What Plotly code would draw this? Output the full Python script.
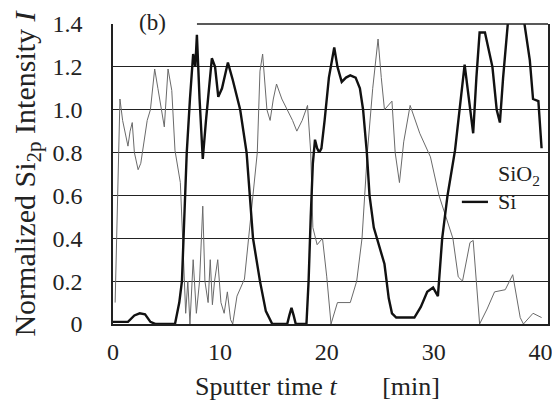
import plotly.graph_objects as go

# Si (thick black) profile
si_t = [0, 1.0, 1.4, 2.0, 2.5, 3.0, 3.5, 4.0, 5.8, 6.2, 6.45, 6.6, 6.9, 7.2, 7.5, 7.7, 7.85, 8.1, 8.4,
        8.7, 8.9, 9.25, 9.55, 9.85, 10.2, 10.75, 11.2, 11.9, 12.5, 12.8, 13.1, 13.75, 14.3, 14.9,
        16.3, 16.5, 16.7, 16.9, 17.1, 18.1, 18.3, 18.5, 18.7, 18.9, 19.1, 19.3, 19.5, 19.8, 20.2,
        20.7, 21.0, 21.4, 21.8, 22.2, 22.7, 23.1, 23.4, 23.75, 24.0, 24.4, 24.8, 25.4, 25.8, 26.1,
        26.5, 28.2, 28.8, 29.4, 29.95, 30.4, 30.8, 31.3, 32.0, 32.5, 32.9, 33.3, 33.7, 34.0, 34.3,
        34.8, 35.5, 35.9, 36.2, 36.5, 36.85, 37.2, 38.2, 38.5, 39.0, 39.3, 39.8, 40.1]
si_i = [0.01, 0.01, 0.01, 0.04, 0.05, 0.045, 0.01, 0.0, 0.0, 0.1, 0.2, 0.4, 0.8, 1.05, 1.26, 1.2, 1.35, 1.05, 0.77,
        0.95, 1.05, 1.24, 1.2, 1.06, 1.1, 1.22, 1.14, 1.0, 0.8, 0.6, 0.4, 0.2, 0.06, 0.0,
        0.0, 0.04, 0.075, 0.04, 0.0, 0.0, 0.2, 0.5, 0.75, 0.86, 0.82, 0.8, 0.82, 0.95, 1.15,
        1.29, 1.2, 1.13, 1.15, 1.16, 1.15, 1.1, 1.0, 0.8, 0.6, 0.45, 0.38, 0.28, 0.12, 0.05,
        0.03, 0.03, 0.08, 0.15, 0.17, 0.13, 0.4, 0.6, 0.81, 1.05, 1.21, 1.05, 0.89, 1.15, 1.36,
        1.36, 1.2, 1.0, 0.94, 1.15, 1.4, 1.55, 1.55, 1.4, 1.23, 1.05, 1.04, 0.82]

# SiO2 (thin grey) profile
sio2_t = [0.2, 0.4, 0.65, 0.9, 1.1, 1.4, 1.6, 1.8, 2.0, 2.35, 2.6, 2.9, 3.2, 3.5, 3.9, 4.2, 4.6, 4.8,
          5.15, 5.5, 5.8, 6.3, 6.6, 6.8, 7.0, 7.2, 7.5, 7.8, 8.1, 8.4, 8.6, 8.9, 9.1, 9.3, 9.5, 9.8,
          10.1, 10.4, 10.7, 11.0, 11.2, 11.6, 12.3, 12.7, 13.1, 13.5, 13.75, 14.0, 14.4, 14.7, 15.0,
          15.3, 15.8, 16.3, 16.8, 17.2, 17.7, 18.2, 18.5, 18.7, 19.1, 19.6, 20.0, 20.4, 21.0, 22.2,
          22.8, 23.3, 23.8, 24.3, 24.8, 25.1, 25.4, 26.1, 26.4, 26.8, 27.2, 27.8, 28.7, 29.7, 30.5,
          31.8, 32.3, 32.7, 33.4, 33.7, 34.3, 35.0, 35.7, 36.7, 37.4, 38.1, 38.4, 39.3, 40.1]
sio2_i = [0.1, 0.6, 1.05, 0.95, 0.9, 0.83, 0.9, 0.94, 0.8, 0.72, 0.75, 0.85, 0.95, 1.0, 1.19, 1.1, 0.97, 0.92,
          1.19, 1.09, 0.81, 0.66, 0.3, 0.05, 0.2, 0.0, 0.3, 0.05, 0.2, 0.55, 0.2, 0.1, 0.3, 0.09, 0.2, 0.3,
          0.1, 0.05, 0.15, 0.02, 0.0, 0.13, 0.21, 0.4, 0.6, 0.8, 1.18, 1.26, 1.0, 0.95, 1.05,
          1.12, 1.05, 1.0, 0.95, 0.9, 0.95, 1.02, 0.8, 0.45, 0.37, 0.4, 0.22, 0.0, 0.1, 0.1,
          0.2, 0.4, 0.8, 1.1, 1.33, 1.15, 1.0, 1.04, 0.8, 0.66, 0.85, 1.02, 0.89, 0.78, 0.6,
          0.4, 0.22, 0.2, 0.38, 0.39, 0.0, 0.07, 0.15, 0.16, 0.23, 0.03, 0.0, 0.05, 0.03]

x_ticks = [0, 10, 20, 30, 40]
y_ticks = [0, 0.2, 0.4, 0.6, 0.8, 1.0, 1.2, 1.4]
y_tick_text = ["0", "0.2", "0.4", "0.6", "0.8", "1.0", "1.2", "1.4"]

FONT = "Liberation Serif, Times New Roman, serif"
INK = "#222222"

fig = go.Figure()
fig.add_trace(go.Scatter(x=sio2_t, y=sio2_i, mode="lines", name="SiO<sub>2</sub>",
                         line=dict(color="#6a6a6a", width=1), showlegend=False))
fig.add_trace(go.Scatter(x=si_t, y=si_i, mode="lines", name="Si",
                         line=dict(color="#111111", width=2.4), showlegend=False))

# page body adds an 8px offset; figure is sized to fit the 560x402 window
fig.update_layout(
    template="none",
    width=552, height=394,
    margin=dict(l=105, r=12, t=16, b=78, pad=0),
    paper_bgcolor="white", plot_bgcolor="white",
    font=dict(family=FONT, size=24, color=INK),
    xaxis=dict(range=[0, 40.7], tickmode="array", tickvals=x_ticks, showgrid=False, zeroline=False,
               showline=True, linecolor=INK, linewidth=1.5,
               ticks="outside", ticklen=5, tickcolor="rgba(0,0,0,0)",
               automargin=False,
               tickfont=dict(family=FONT, size=24, color=INK),
               title=dict(text="Sputter time <i>t</i>       [min]" + "\u00a0" * 4 + "\u200b",
                          standoff=13, font=dict(family=FONT, size=26, color=INK))),
    yaxis=dict(range=[0, 1.4], tickmode="array", tickvals=y_ticks, ticktext=y_tick_text, showgrid=True,
               gridcolor=INK, gridwidth=1.2, zeroline=False,
               showline=True, mirror=True, linecolor=INK, linewidth=1.5,
               ticks="outside", ticklen=24, tickcolor="rgba(0,0,0,0)",
               automargin=False,
               tickfont=dict(family=FONT, size=24, color=INK),
               title=dict(text="Normalized Si<sub>2p</sub> Intensity <i>I</i>", standoff=8,
                          font=dict(family=FONT, size=30, color=INK))),
    showlegend=False,
)

# partial top frame line
fig.add_shape(type="line", xref="paper", yref="paper", x0=0.193, x1=1.0, y0=1.0, y1=1.0,
              line=dict(color=INK, width=1.5))
# legend key for Si
fig.add_shape(type="line", xref="paper", yref="paper", x0=0.802, x1=0.862, y0=0.407, y1=0.407,
              line=dict(color="#111111", width=2.4))
fig.add_annotation(text="SiO<sub>2</sub>", xref="paper", yref="paper", x=0.88, y=0.497,
                   xanchor="left", yanchor="middle", showarrow=False,
                   font=dict(family=FONT, size=22, color=INK))
fig.add_annotation(text="Si", xref="paper", yref="paper", x=0.88, y=0.407,
                   xanchor="left", yanchor="middle", showarrow=False,
                   font=dict(family=FONT, size=22, color=INK))
fig.add_annotation(text="(b)", xref="paper", yref="paper", x=0.09, y=1.053,
                   xanchor="center", yanchor="top", showarrow=False,
                   font=dict(family=FONT, size=23, color=INK))

fig.write_html("out.html")
